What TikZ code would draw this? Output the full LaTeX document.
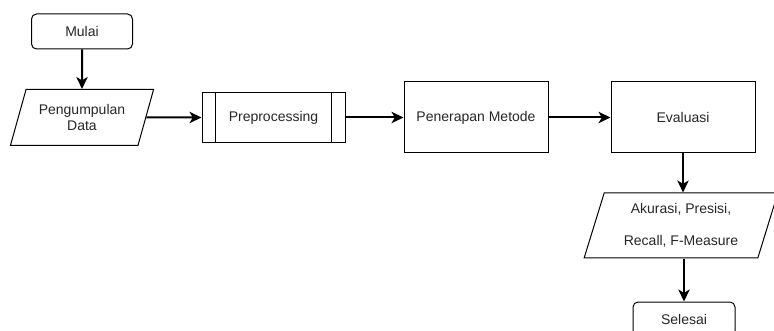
\documentclass[tikz,border=0pt]{standalone}
\usepackage{fontspec}
\setmainfont{Liberation Sans}
\usetikzlibrary{shapes.geometric,arrows.meta}

\tikzset{
  kotak/.style={draw, line width=0.75pt, inner sep=0pt, align=center, text=black!85},
  terminal/.style={kotak, rounded corners=3.75pt, minimum width=75.75pt, minimum height=26.25pt},
  proses/.style={kotak, minimum width=108pt, minimum height=53.25pt},
  data/.style={kotak, trapezium, trapezium stretches=true},
  panah/.style={-{Stealth[length=9pt,width=8.5pt,inset=2.5pt]}, line width=1.5pt}
}

\begin{document}
\begin{tikzpicture}[x=0.75pt, y=-0.75pt, font=\fontsize{10.5}{12.6}\selectfont]
    \useasboundingbox (0,0) rectangle (774,331);

    \node[terminal] (mulai) at (82,31.5) {Mulai};
    \node[data, trapezium left angle=66, trapezium right angle=114,
          minimum width=108pt, minimum height=42pt] (kumpul) at (82,117.5) {Pengumpulan\\Data};
    \node[kotak, minimum width=107.25pt, minimum height=37.5pt] (pre) at (273.5,117.5) {Preprocessing};
    \node[proses] (metode) at (476,117.5) {Penerapan Metode};
    \node[proses] (eval) at (683,117.5) {Evaluasi};
    \node[data, trapezium left angle=71, trapezium right angle=109,
          minimum width=145.5pt, minimum height=48.75pt] (hasil) at (681,225.5) {Akurasi, Presisi,\\[11pt]Recall, F-Measure};
    \node[terminal, minimum width=76.5pt, minimum height=25.5pt] (selesai) at (684,319) {Selesai};

    % garis tepi subproses
    \draw[line width=0.75pt] ([xshift=10.5pt]pre.north west) -- ([xshift=10.5pt]pre.south west);
    \draw[line width=0.75pt] ([xshift=-10.5pt]pre.north east) -- ([xshift=-10.5pt]pre.south east);

    \draw[panah] (mulai) -- (kumpul);
    \draw[panah] (kumpul) -- (pre);
    \draw[panah] (pre) -- (metode);
    \draw[panah] (metode) -- (eval);
    \draw[panah] (eval.south) -- (eval.south |- hasil.north);
    \draw[panah] (hasil.south -| selesai.north) -- (selesai);
\end{tikzpicture}
\end{document}
